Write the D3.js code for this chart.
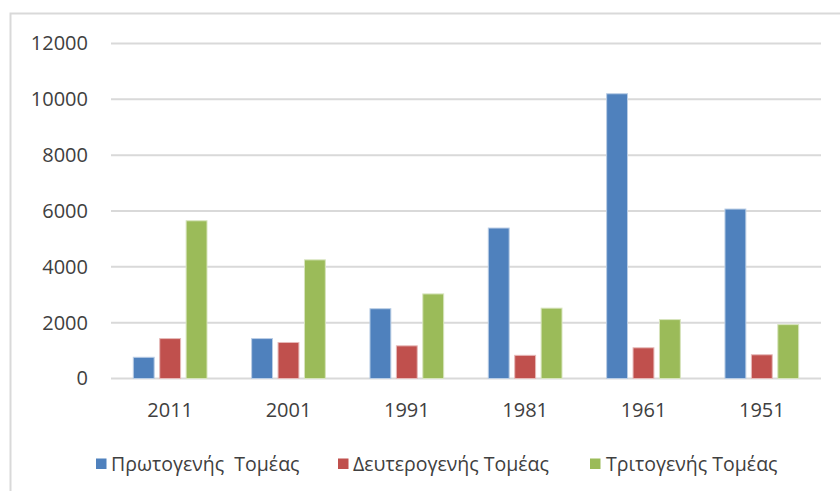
<!DOCTYPE html>
<html>
<head>
<meta charset="utf-8">
<script src="https://cdn.jsdelivr.net/npm/d3@7"></script>
<style>
  html, body { margin: 0; padding: 0; background: #ffffff; }
  svg { display: block; }
  text { font-family: "Open Sans", "Liberation Sans", sans-serif; fill: #404040; }
</style>
</head>
<body>
<svg id="chart" width="840" height="491"></svg>
<script>
const categories = ["2011", "2001", "1991", "1981", "1961", "1951"];
const seriesNames = ["Πρωτογενής  Τομέας", "Δευτερογενής Τομέας", "Τριτογενής Τομέας"];
const primary   = [760, 1430, 2500, 5390, 10200, 6070];
const secondary = [1430, 1290, 1170, 830, 1100, 850];
const tertiary  = [5650, 4250, 3030, 2520, 2110, 1930];
const yTicks = [0, 2000, 4000, 6000, 8000, 10000, 12000];
const colors = ["#4f81bd", "#c0504d", "#9bbb59"];
const strokeColors = ["#b9cde5", "#e6b9b8", "#d7e4bd"];

const seriesValues = [primary, secondary, tertiary];

const svg = d3.select("#chart");

// Chart frame (left and top edges visible)
svg.append("path")
  .attr("d", "M10.5,491 L10.5,13.5 L840,13.5")
  .attr("fill", "none")
  .attr("stroke", "#d9d9d9")
  .attr("stroke-width", 2);

const plotLeft = 111, plotRight = 821;
const x0 = d3.scaleBand().domain(categories).range([plotLeft, plotRight]).paddingInner(0).paddingOuter(0);
const x1 = d3.scaleBand().domain(d3.range(seriesNames.length)).range([22.3, 96]).paddingInner(0.21).paddingOuter(0);
const y = d3.scaleLinear().domain([0, 12000]).range([378.5, 43.5]);

// Gridlines
svg.append("g").selectAll("line").data(yTicks).join("line")
  .attr("x1", plotLeft).attr("x2", plotRight)
  .attr("y1", d => y(d)).attr("y2", d => y(d))
  .attr("stroke", "#d9d9d9").attr("stroke-width", 2);

// Y axis labels
const yAxis = d3.axisLeft(y).tickValues(yTicks).tickSize(0).tickPadding(0).tickFormat(d3.format("d"));
const yg = svg.append("g").attr("transform", "translate(88,0)").call(yAxis);
yg.select(".domain").remove();
yg.selectAll("text").attr("font-size", 20).attr("fill", "#404040")
  .attr("font-family", "'Open Sans', 'Liberation Sans', sans-serif");

// X axis labels
const xAxis = d3.axisBottom(x0).tickSize(0).tickPadding(0);
const xg = svg.append("g").attr("transform", "translate(0,403)").call(xAxis);
xg.select(".domain").remove();
xg.selectAll("text").attr("font-size", 20).attr("fill", "#404040")
  .attr("font-family", "'Open Sans', 'Liberation Sans', sans-serif");

// Bars
const groups = svg.append("g").selectAll("g").data(categories).join("g")
  .attr("transform", d => `translate(${x0(d)},0)`);
groups.selectAll("rect")
  .data((c, i) => seriesValues.map((vals, s) => ({ s, v: vals[i] })))
  .join("rect")
  .attr("x", d => x1(d.s))
  .attr("width", x1.bandwidth())
  .attr("y", d => y(d.v))
  .attr("height", d => y(0) - y(d.v))
  .attr("fill", d => colors[d.s])
  .attr("stroke", d => strokeColors[d.s])
  .attr("stroke-width", 1);

// Legend
const legendItems = [
  { sq: 96, tx: 111 },
  { sq: 338, tx: 353 },
  { sq: 590, tx: 606 }
];
const lg = svg.append("g");
seriesNames.forEach((name, i) => {
  lg.append("rect")
    .attr("x", legendItems[i].sq).attr("y", 458.5)
    .attr("width", 10.5).attr("height", 10.5)
    .attr("fill", colors[i]);
  lg.append("text")
    .attr("x", legendItems[i].tx).attr("y", 464)
    .attr("dy", "0.35em")
    .attr("font-size", 19.5)
    .attr("xml:space", "preserve")
    .style("white-space", "pre")
    .text(name);
});
</script>
</body>
</html>
